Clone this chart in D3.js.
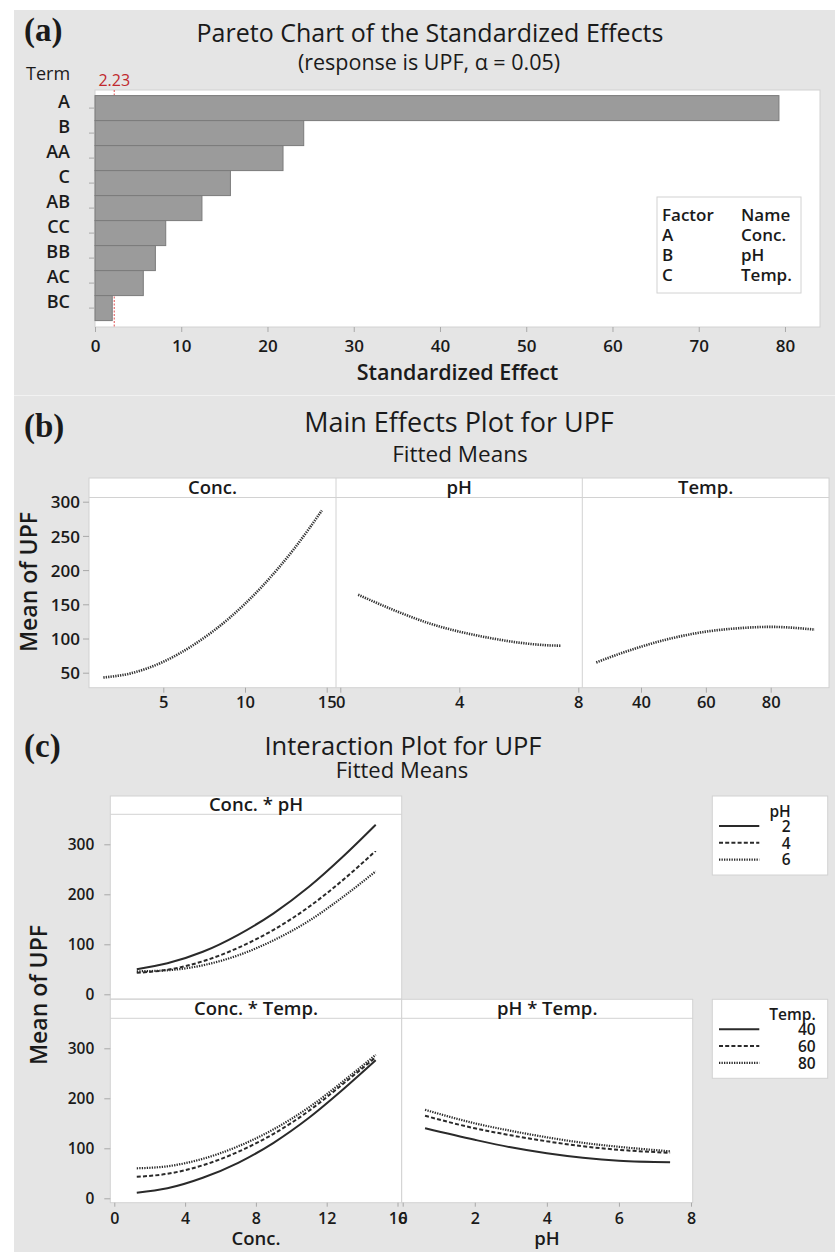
<!DOCTYPE html>
<html>
<head>
<meta charset="utf-8">
<script src="https://cdn.jsdelivr.net/npm/d3@7"></script>
<style>
  html, body { margin: 0; padding: 0; background: #fff; }
  svg { display: block; }
  text { font-family: "Open Sans", "Noto Sans", sans-serif; fill: #1a1a1a; }
</style>
</head>
<body>
<svg id="fig" width="835" height="1252"></svg>
<script>
// ---------- Pareto chart data ----------
const terms = ["A", "B", "AA", "C", "AB", "CC", "BB", "AC", "BC"];
const effects = [79.3, 24.2, 21.8, 15.7, 12.4, 8.2, 7.0, 5.6, 2.0];
const criticalEffect = 2.23;
const paretoTicks = [0, 10, 20, 30, 40, 50, 60, 70, 80];
const factorCodes = ["A", "B", "C"];
const factorNames = ["Conc.", "pH", "Temp."];

// ---------- Main effects (fitted means) ----------
const concLevels = [1.33, 3, 5, 7, 9, 11, 13, 14.7];
const concMeans  = [43, 49, 66, 93, 129, 175, 231, 287];
const phLevels   = [0.6, 2, 3, 4, 5, 6, 7, 7.4];
const phMeans    = [164, 138, 122, 110, 101, 94, 90, 89.5];
const tempLevels = [26.2, 33, 40, 50, 60, 70, 80, 93.6];
const tempMeans  = [65, 77, 88, 101, 110, 115, 117, 113];
const mainTicksY = [50, 100, 150, 200, 250, 300];
const concTicks = [5, 10, 15];
const phTicks = [0, 4, 8];
const tempTicks = [40, 60, 80];

// ---------- Interaction (fitted means) ----------
const concGrid  = [1.27, 3, 5, 7, 9, 11, 13, 14.77];
const concByPH2 = [50, 62, 85, 119, 162, 215, 278, 339];
const concByPH4 = [43, 49, 66, 93, 129, 175, 231, 287];
const concByPH6 = [46, 48, 58, 78, 108, 147, 197, 246];
const concByT40 = [11, 20, 41, 71, 111, 161, 220, 276];
const concByT60 = [43, 49, 66, 93, 129, 175, 231, 282];
const concByT80 = [60, 64, 79, 104, 138, 182, 236, 287];
const phGrid    = [0.62, 2, 3, 4, 5, 6, 7.42];
const phByT40   = [140, 117, 102, 90, 81, 75, 72];
const phByT60   = [165, 140, 126, 114, 104, 97, 91];
const phByT80   = [177, 150, 135, 122, 111, 103, 94];
const phLegend   = ["2", "4", "6"];
const tempLegend = ["40", "60", "80"];
const interTicksY = [0, 100, 200, 300];
const interConcTicks = [0, 4, 8, 12, 16];
const interPhTicks = [0, 2, 4, 6, 8];

// ---------- shared styling ----------
const BG = "#e5e5e5", FRAME = "#d2d2d2", TICK = "#a8a8a8", INK = "#262626";
const lineStyles = [
  { dash: null,      width: 2.0 },
  { dash: "4,2.2",   width: 2.0 },
  { dash: "1.3,1.2", width: 2.2 }
];

const svg = d3.select("#fig");

// figure background
svg.append("rect").attr("x", 14).attr("y", 10).attr("width", 821).attr("height", 1242).attr("fill", BG);
svg.append("line").attr("x1", 14).attr("x2", 835).attr("y1", 395.5).attr("y2", 395.5)
  .attr("stroke", "#f2f2f2").attr("stroke-width", 1);

function panelLetter(txt, y) {
  svg.append("text").attr("x", 24).attr("y", y)
    .style("font-family", "'Liberation Serif', 'Times New Roman', serif")
    .style("font-weight", "bold").style("font-size", "33px").attr("fill", "#111").text(txt);
}
function title(txt, x, y, size, weight) {
  svg.append("text").attr("x", x).attr("y", y).attr("text-anchor", "middle")
    .style("font-size", size + "px").style("font-weight", weight || 400).text(txt);
}

function styleAxis(g, fontSize, textY, textX) {
  g.select(".domain").remove();
  g.selectAll(".tick line").attr("stroke", TICK).attr("stroke-width", 1);
  const t = g.selectAll(".tick text").attr("dy", 0)
    .style("font-size", fontSize + "px").style("font-weight", 600).attr("fill", INK);
  if (textY !== undefined) t.attr("y", textY);
  if (textX !== undefined) t.attr("x", textX).attr("dy", "0.36em");
}

// =====================================================================
// (a) Pareto chart of the standardized effects
// =====================================================================
panelLetter("(a)", 41);
title("Pareto Chart of the Standardized Effects", 430, 42, 25);
title("(response is UPF, \u03b1 = 0.05)", 429, 70, 21.5);
svg.append("text").attr("x", 26).attr("y", 80).style("font-size", "18px").text("Term");

const pa = { x0: 95, x1: 820, y0: 90, y1: 327 };
const xP = d3.scaleLinear().domain([0, 84.06]).range([pa.x0, pa.x1]);
const yP = d3.scaleBand().domain(terms).range([95.6, 320.6]).padding(0);

svg.append("rect").attr("x", pa.x0).attr("y", pa.y0)
  .attr("width", pa.x1 - pa.x0).attr("height", pa.y1 - pa.y0)
  .attr("fill", "#fff").attr("stroke", FRAME);

// critical value reference line
svg.append("line").attr("x1", xP(criticalEffect)).attr("x2", xP(criticalEffect))
  .attr("y1", pa.y0).attr("y2", pa.y1)
  .attr("stroke", "#e05050").attr("stroke-width", 1).attr("stroke-dasharray", "2,1.5");
svg.append("text").attr("x", xP(criticalEffect)).attr("y", 86).attr("text-anchor", "middle")
  .style("font-size", "16px").style("fill", "#c0282d")
  .text(criticalEffect.toFixed(2));

svg.append("g").selectAll("rect").data(terms).join("rect")
  .attr("x", xP(0)).attr("y", d => yP(d))
  .attr("width", (d, i) => xP(effects[i]) - xP(0)).attr("height", yP.bandwidth())
  .attr("fill", "#9b9b9b").attr("stroke", "#7b7b7b").attr("stroke-width", 1);

const gxP = svg.append("g").attr("transform", `translate(0,${pa.y1})`)
  .call(d3.axisBottom(xP).tickValues(paretoTicks).tickSize(5).tickFormat(d3.format("d")));
styleAxis(gxP, 17, 25);
const gyP = svg.append("g").attr("transform", `translate(${pa.x0},0)`)
  .call(d3.axisLeft(yP).tickSize(6).tickPadding(19));
styleAxis(gyP, 18);

svg.append("text").attr("x", (pa.x0 + pa.x1) / 2).attr("y", 380).attr("text-anchor", "middle")
  .style("font-size", "21.5px").style("font-weight", 600).text("Standardized Effect");

// factor key
const key = svg.append("g");
key.append("rect").attr("x", 657).attr("y", 197).attr("width", 144).attr("height", 96)
  .attr("fill", "#fff").attr("stroke", FRAME);
key.append("text").attr("x", 662).attr("y", 221).style("font-size", "17px").style("font-weight", 600).text("Factor");
key.append("text").attr("x", 741).attr("y", 221).style("font-size", "17px").style("font-weight", 600).text("Name");
factorCodes.forEach((c, i) => {
  key.append("text").attr("x", 662).attr("y", 241 + i * 20).style("font-size", "17px").style("font-weight", 600).text(c);
  key.append("text").attr("x", 741).attr("y", 241 + i * 20).style("font-size", "17px").style("font-weight", 600).text(factorNames[i]);
});

// =====================================================================
// (b) Main effects plot
// =====================================================================
panelLetter("(b)", 437);
title("Main Effects Plot for UPF", 459, 432, 27);
title("Fitted Means", 460, 462, 22.5);

const mb = { y0: 478, yh: 497.5, y1: 687.7, edges: [89, 336, 582.3, 829] };
const yM = d3.scaleLinear().domain([50, 300]).range([672.7, 501.7]);

svg.append("rect").attr("x", mb.edges[0]).attr("y", mb.y0)
  .attr("width", mb.edges[3] - mb.edges[0]).attr("height", mb.y1 - mb.y0)
  .attr("fill", "#fff").attr("stroke", FRAME);
svg.append("line").attr("x1", mb.edges[0]).attr("x2", mb.edges[3]).attr("y1", mb.yh).attr("y2", mb.yh).attr("stroke", FRAME);
[1, 2].forEach(i => svg.append("line").attr("x1", mb.edges[i]).attr("x2", mb.edges[i])
  .attr("y1", mb.y0).attr("y2", mb.y1).attr("stroke", FRAME));

const mainPanels = [
  { name: "Conc.", xs: concLevels, ys: concMeans, x: d3.scaleLinear().domain([5, 15]).range([163.3, 326.7]), ticks: concTicks },
  { name: "pH", xs: phLevels, ys: phMeans, x: d3.scaleLinear().domain([0, 8]).range([340.3, 578.3]), ticks: phTicks },
  { name: "Temp.", xs: tempLevels, ys: tempMeans, x: d3.scaleLinear().domain([40, 80]).range([641, 770.7]), ticks: tempTicks }
];
mainPanels.forEach((p, i) => {
  const cx = (mb.edges[i] + mb.edges[i + 1]) / 2;
  svg.append("text").attr("x", cx).attr("y", 494).attr("text-anchor", "middle")
    .style("font-size", "18.5px").style("font-weight", 600).text(p.name);
  const line = d3.line().x(d => p.x(d[0])).y(d => yM(d[1])).curve(d3.curveMonotoneX);
  svg.append("path").attr("d", line(d3.zip(p.xs, p.ys)))
    .attr("fill", "none").attr("stroke", "#333").attr("stroke-width", 2.6)
    .attr("stroke-dasharray", "1.3,1.1");
  const gx = svg.append("g").attr("transform", `translate(0,${mb.y1})`)
    .call(d3.axisBottom(p.x).tickValues(p.ticks).tickSize(5).tickFormat(d3.format("d")));
  styleAxis(gx, 16.5, 20);
});
const gyM = svg.append("g").attr("transform", `translate(${mb.edges[0]},0)`)
  .call(d3.axisLeft(yM).tickValues(mainTicksY).tickSize(6).tickPadding(3));
styleAxis(gyM, 17, undefined, -9);
svg.append("text").attr("transform", "translate(37,582) rotate(-90)").attr("text-anchor", "middle")
  .style("font-size", "23px").style("font-weight", 600).text("Mean of UPF");

// =====================================================================
// (c) Interaction plot
// =====================================================================
panelLetter("(c)", 757);
title("Interaction Plot for UPF", 403, 755, 25.5);
title("Fitted Means", 402, 778, 22);

const xCi = d3.scaleLinear().domain([0, 12]).range([114.3, 326.7]);
const xPi = d3.scaleLinear().domain([0, 8]).range([402.7, 691]);
const yTop = d3.scaleLinear().domain([0, 300]).range([994.3, 844.3]);
const yBot = d3.scaleLinear().domain([0, 300]).range([1198.3, 1048.3]);

const cells = [
  { name: "Conc. * pH",    x0: 110.3, x1: 401.7, y0: 796,   yh: 814.3,  y1: 999,    xs: concGrid, series: [concByPH2, concByPH4, concByPH6], x: xCi, y: yTop },
  { name: "Conc. * Temp.", x0: 110.3, x1: 401.7, y0: 999.3, yh: 1018.3, y1: 1202.7, xs: concGrid, series: [concByT40, concByT60, concByT80], x: xCi, y: yBot },
  { name: "pH * Temp.",    x0: 401.7, x1: 692.7, y0: 999.3, yh: 1018.3, y1: 1202.7, xs: phGrid,   series: [phByT40, phByT60, phByT80],       x: xPi, y: yBot }
];
cells.forEach(c => {
  svg.append("rect").attr("x", c.x0).attr("y", c.y0).attr("width", c.x1 - c.x0).attr("height", c.y1 - c.y0)
    .attr("fill", "#fff").attr("stroke", FRAME);
  svg.append("line").attr("x1", c.x0).attr("x2", c.x1).attr("y1", c.yh).attr("y2", c.yh).attr("stroke", FRAME);
  svg.append("text").attr("x", (c.x0 + c.x1) / 2).attr("y", c.yh - 3).attr("text-anchor", "middle")
    .style("font-size", "18.5px").style("font-weight", 600).text(c.name);
  c.series.forEach((vals, k) => {
    const line = d3.line().x(d => c.x(d[0])).y(d => c.y(d[1])).curve(d3.curveMonotoneX);
    svg.append("path").attr("d", line(d3.zip(c.xs, vals)))
      .attr("fill", "none").attr("stroke", "#2a2a2a")
      .attr("stroke-width", lineStyles[k].width)
      .attr("stroke-dasharray", lineStyles[k].dash);
  });
});

// left axes
[yTop, yBot].forEach(ys => {
  const g = svg.append("g").attr("transform", "translate(110.3,0)")
    .call(d3.axisLeft(ys).tickValues(interTicksY).tickSize(6).tickPadding(3));
  styleAxis(g, 15.5, undefined, -16);
});
// bottom axes
const gxC = svg.append("g").attr("transform", "translate(0,1202.7)")
  .call(d3.axisBottom(xCi).tickValues(interConcTicks).tickSize(4).tickFormat(d3.format("d")));
styleAxis(gxC, 16, 21);
const gxPh = svg.append("g").attr("transform", "translate(0,1202.7)")
  .call(d3.axisBottom(xPi).tickValues(interPhTicks).tickSize(4).tickFormat(d3.format("d")));
styleAxis(gxPh, 16, 21);

svg.append("text").attr("x", 256).attr("y", 1245).attr("text-anchor", "middle")
  .style("font-size", "18.5px").style("font-weight", 600).text("Conc.");
svg.append("text").attr("x", 547).attr("y", 1245).attr("text-anchor", "middle")
  .style("font-size", "18.5px").style("font-weight", 600).text("pH");
svg.append("text").attr("transform", "translate(47,995) rotate(-90)").attr("text-anchor", "middle")
  .style("font-size", "23px").style("font-weight", 600).text("Mean of UPF");

// legends
function legend(y0, heading, labels, textRight) {
  const g = svg.append("g");
  g.append("rect").attr("x", 712.3).attr("y", y0).attr("width", 115.4).attr("height", 79)
    .attr("fill", "#fff").attr("stroke", FRAME);
  g.append("text").attr("x", textRight).attr("y", y0 + 20.5).attr("text-anchor", "end")
    .style("font-size", "15.5px").style("font-weight", 600).text(heading);
  labels.forEach((lab, k) => {
    const yl = y0 + 30 + k * 16.8;
    g.append("line").attr("x1", 719).attr("x2", 759.3).attr("y1", yl).attr("y2", yl)
      .attr("stroke", "#2a2a2a").attr("stroke-width", lineStyles[k].width)
      .attr("stroke-dasharray", lineStyles[k].dash);
    g.append("text").attr("x", textRight).attr("y", yl + 5.7).attr("text-anchor", "end")
      .style("font-size", "15.5px").style("font-weight", 600).text(lab);
  });
}
legend(796, "pH", phLegend, 790.7);
legend(999.3, "Temp.", tempLegend, 815.7);
</script>
</body>
</html>
